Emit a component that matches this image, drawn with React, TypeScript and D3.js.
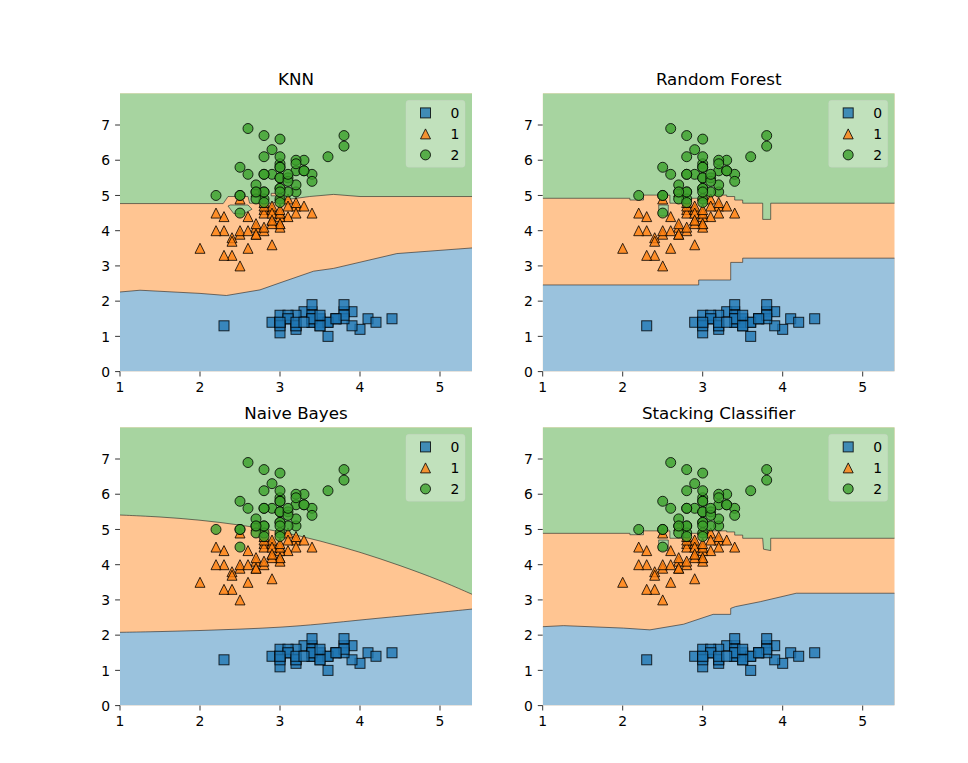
import React from "react";
import * as d3 from "d3";

type P = [number, number];

// Iris: [sepal width, petal length]
const setosa: P[] = [
  [3.5, 1.4], [3.0, 1.4], [3.2, 1.3], [3.1, 1.5], [3.6, 1.4], [3.9, 1.7], [3.4, 1.4], [3.4, 1.5], [2.9, 1.4], [3.1, 1.5],
  [3.7, 1.5], [3.4, 1.6], [3.0, 1.4], [3.0, 1.1], [4.0, 1.2], [4.4, 1.5], [3.9, 1.3], [3.5, 1.4], [3.8, 1.7], [3.8, 1.5],
  [3.4, 1.7], [3.7, 1.5], [3.6, 1.0], [3.3, 1.7], [3.4, 1.9], [3.0, 1.6], [3.4, 1.6], [3.5, 1.5], [3.4, 1.4], [3.2, 1.6],
  [3.1, 1.6], [3.4, 1.5], [4.1, 1.5], [4.2, 1.4], [3.1, 1.5], [3.2, 1.2], [3.5, 1.3], [3.6, 1.4], [3.0, 1.3], [3.4, 1.5],
  [3.5, 1.3], [2.3, 1.3], [3.2, 1.3], [3.5, 1.6], [3.8, 1.9], [3.0, 1.4], [3.8, 1.6], [3.2, 1.4], [3.7, 1.5], [3.3, 1.4],
];
const versicolor: P[] = [
  [3.2, 4.7], [3.2, 4.5], [3.1, 4.9], [2.3, 4.0], [2.8, 4.6], [2.8, 4.5], [3.3, 4.7], [2.4, 3.3], [2.9, 4.6], [2.7, 3.9],
  [2.0, 3.5], [3.0, 4.2], [2.2, 4.0], [2.9, 4.7], [2.9, 3.6], [3.1, 4.4], [3.0, 4.5], [2.7, 4.1], [2.2, 4.5], [2.5, 3.9],
  [3.2, 4.8], [2.8, 4.0], [2.5, 4.9], [2.8, 4.7], [2.9, 4.3], [3.0, 4.4], [2.8, 4.8], [3.0, 5.0], [2.9, 4.5], [2.6, 3.5],
  [2.4, 3.8], [2.4, 3.7], [2.7, 3.9], [2.7, 5.1], [3.0, 4.5], [3.4, 4.5], [3.1, 4.7], [2.3, 4.4], [3.0, 4.1], [2.5, 4.0],
  [2.6, 4.4], [3.0, 4.6], [2.6, 4.0], [2.3, 3.3], [2.7, 4.2], [3.0, 4.2], [2.9, 4.2], [2.9, 4.3], [2.5, 3.0], [2.8, 4.1],
];
const virginica: P[] = [
  [3.3, 6.0], [2.7, 5.1], [3.0, 5.9], [2.9, 5.6], [3.0, 5.8], [3.0, 6.6], [2.5, 4.5], [2.9, 6.3], [2.5, 5.8], [3.6, 6.1],
  [3.2, 5.1], [2.7, 5.3], [3.0, 5.5], [2.5, 5.0], [2.8, 5.1], [3.2, 5.3], [3.0, 5.5], [3.8, 6.7], [2.6, 6.9], [2.2, 5.0],
  [3.2, 5.7], [2.8, 4.9], [2.8, 6.7], [2.7, 4.9], [3.3, 5.7], [3.2, 6.0], [2.8, 4.8], [3.0, 4.9], [2.8, 5.6], [3.0, 5.8],
  [2.8, 6.1], [3.8, 6.4], [2.8, 5.6], [2.8, 5.1], [2.6, 5.6], [3.0, 6.1], [3.4, 5.6], [3.1, 5.5], [3.0, 4.8], [3.1, 5.4],
  [3.1, 5.6], [3.1, 5.1], [2.7, 5.1], [3.2, 5.9], [3.3, 5.7], [3.0, 5.2], [2.5, 5.0], [3.0, 5.2], [3.4, 5.4], [3.0, 5.1],
];

const classLabels = ["0", "1", "2"];
const titles = ["KNN", "Random Forest", "Naive Bayes", "Stacking Classifier"];
const xTicks = [1, 2, 3, 4, 5];
const yTicks = [0, 1, 2, 3, 4, 5, 6, 7];
const xDomain: P = [1, 5.4];
const yDomain: P = [0, 7.9];

// Decision boundaries (blue/orange = lower, orange/green = upper)
const knnLower: P[] = [[1.0, 2.26], [1.25, 2.31], [2.0, 2.22], [2.33, 2.16], [2.75, 2.32], [3.0, 2.52], [3.42, 2.85], [3.67, 2.93], [4.46, 3.35], [5.4, 3.51]];
const knnUpper: P[] = [[1.0, 4.77], [2.29, 4.77], [2.35, 4.97], [2.6, 4.97], [2.62, 4.78], [2.9, 4.78], [3.04, 4.87], [3.37, 4.97], [3.67, 5.03], [4.0, 4.97], [5.4, 4.97]];
const knnGreenIslands: P[][] = [[[2.35, 4.70], [2.42, 4.49], [2.54, 4.47], [2.65, 4.61], [2.60, 4.73], [2.38, 4.73]]];
const knnOrangeIslands: P[][] = [[[2.89, 4.99], [2.98, 4.99], [2.98, 5.06], [2.89, 5.06]]];

const rfLower: P[] = [[1, 2.46], [2.95, 2.46], [2.95, 2.60], [3.35, 2.60], [3.35, 3.10], [3.5, 3.10], [3.5, 3.22], [5.4, 3.22]];
const rfUpper: P[] = [[1, 4.92], [2.09, 4.92], [2.09, 4.87], [2.26, 4.87], [2.26, 5.01], [2.59, 5.01], [2.59, 4.78], [2.76, 4.78], [2.76, 4.87], [2.86, 4.87], [2.86, 4.92], [3.05, 4.92], [3.05, 5.01], [3.3, 5.01], [3.3, 4.97], [3.4, 4.97], [3.4, 4.87], [3.5, 4.87], [3.5, 4.78], [3.75, 4.78], [3.75, 4.32], [3.85, 4.32], [3.85, 4.78], [5.4, 4.78]];
const rfGreenIslands: P[][] = [[[2.45, 4.42], [2.57, 4.42], [2.57, 4.73], [2.45, 4.73]]];

const nbLower: P[] = [[1, 2.08], [1.5, 2.1], [2, 2.13], [2.5, 2.17], [3, 2.22], [3.5, 2.31], [4.08, 2.45], [4.7, 2.58], [5.4, 2.74]];
const nbUpper: P[] = [[1, 5.41], [1.5, 5.36], [2, 5.27], [2.5, 5.13], [3, 4.95], [3.5, 4.68], [4, 4.36], [4.5, 3.98], [5.0, 3.56], [5.4, 3.16]];

const stLower: P[] = [[1, 2.24], [1.26, 2.27], [2.01, 2.2], [2.34, 2.15], [2.76, 2.31], [3.13, 2.59], [3.35, 2.59], [3.35, 2.76], [3.41, 2.81], [3.72, 2.95], [4.17, 3.19], [5.4, 3.19]];
const stUpper: P[] = [[1, 4.89], [2.09, 4.89], [2.09, 4.85], [2.26, 4.85], [2.26, 4.96], [2.59, 4.96], [2.59, 4.75], [2.76, 4.75], [2.76, 4.84], [2.86, 4.84], [2.86, 4.89], [3.05, 4.89], [3.05, 4.96], [3.3, 4.96], [3.3, 4.93], [3.4, 4.93], [3.4, 4.84], [3.5, 4.84], [3.5, 4.75], [3.75, 4.75], [3.76, 4.44], [3.85, 4.40], [3.85, 4.75], [5.4, 4.75]];
const stGreenIslands: P[][] = [[[2.45, 4.40], [2.57, 4.40], [2.57, 4.70], [2.45, 4.70]]];

const markerColors = ["#1f77b4", "#ff7f0e", "#3ca02c"];
const regionColors = ["#9ac2dd", "#ffc592", "#a7d4a0"];

const AX_W = 352;
const AX_H = 278.3;
const FONT = "DejaVu Sans, sans-serif";
const MS = 10;

function Marker({ cls, cx, cy }: { cls: number; cx: number; cy: number }) {
  const common = { fill: markerColors[cls], fillOpacity: 0.8, stroke: "#000", strokeOpacity: 0.8, strokeWidth: 1 };
  const h = MS / 2;
  if (cls === 0) return <rect x={cx - h} y={cy - h} width={MS} height={MS} {...common} />;
  if (cls === 1) return <path d={`M${cx},${cy - h}L${cx + h},${cy + h}L${cx - h},${cy + h}Z`} {...common} />;
  return <circle cx={cx} cy={cy} r={h} {...common} />;
}

type PanelProps = {
  id: number; left: number; top: number; title: string;
  lower: P[]; upper: P[]; greenIslands?: P[][]; orangeIslands?: P[][]; smooth?: boolean;
};

function Panel({ id, left, top, title, lower, upper, greenIslands = [], orangeIslands = [], smooth }: PanelProps) {
  const x = d3.scaleLinear().domain(xDomain).range([left, left + AX_W]);
  const y = d3.scaleLinear().domain(yDomain).range([top + AX_H, top]);
  const curve = smooth ? d3.curveBasis : d3.curveLinear;
  const blueArea = d3.area<P>().x(d => x(d[0])).y0(y(yDomain[0])).y1(d => y(d[1])).curve(curve);
  const greenArea = d3.area<P>().x(d => x(d[0])).y0(y(yDomain[1])).y1(d => y(d[1])).curve(curve);
  const line = d3.line<P>().x(d => x(d[0])).y(d => y(d[1])).curve(curve);
  const poly = (pts: P[]) => "M" + pts.map(p => `${x(p[0])},${y(p[1])}`).join("L") + "Z";
  const clipId = `clip${id}`;
  const lineStyle = { fill: "none", stroke: "#222", strokeWidth: 0.8, strokeOpacity: 0.75 };
  const legW = 59, legH = 67;
  const legX = left + AX_W - 7 - legW;
  const legY = top + 7;
  return (
    <g>
      <defs>
        <clipPath id={clipId}><rect x={left} y={top} width={AX_W} height={AX_H} /></clipPath>
      </defs>
      <g clipPath={`url(#${clipId})`}>
        <rect x={left} y={top} width={AX_W} height={AX_H} fill={regionColors[1]} />
        <path d={blueArea(lower) || ""} fill={regionColors[0]} />
        <path d={greenArea(upper) || ""} fill={regionColors[2]} />
        {greenIslands.map((g, i) => <path key={"g" + i} d={poly(g)} fill={regionColors[2]} />)}
        {orangeIslands.map((g, i) => <path key={"o" + i} d={poly(g)} fill={regionColors[1]} />)}
        <path d={line(lower) || ""} {...lineStyle} />
        <path d={line(upper) || ""} {...lineStyle} />
        {greenIslands.map((g, i) => <path key={"gl" + i} d={poly(g)} {...lineStyle} />)}
        {orangeIslands.map((g, i) => <path key={"ol" + i} d={poly(g)} {...lineStyle} />)}
      </g>
      {[setosa, versicolor, virginica].map((pts, c) =>
        pts.map((p, i) => <Marker key={`${c}-${i}`} cls={c} cx={x(p[0])} cy={y(p[1])} />)
      )}
      {xTicks.map(t => (
        <g key={"x" + t}>
          <line x1={x(t)} x2={x(t)} y1={top + AX_H} y2={top + AX_H + 4.9} stroke="#000" strokeWidth={0.8} />
          <text x={x(t)} y={top + AX_H + 20.5} textAnchor="middle" fontSize={13.9} fontFamily={FONT}>{t}</text>
        </g>
      ))}
      {yTicks.map(t => (
        <g key={"y" + t}>
          <line x1={left - 4.9} x2={left} y1={y(t)} y2={y(t)} stroke="#000" strokeWidth={0.8} />
          <text x={left - 9.8} y={y(t) + 5.2} textAnchor="end" fontSize={13.9} fontFamily={FONT}>{t}</text>
        </g>
      ))}
      <text x={left + AX_W / 2} y={top - 8.3} textAnchor="middle" fontSize={16.7} fontFamily={FONT}>{title}</text>
      <rect x={legX} y={legY} width={legW} height={legH} rx={3} fill="#fff" fillOpacity={0.3} stroke="#ccc" strokeOpacity={0.3} />
      {classLabels.map((lab, i) => (
        <g key={"l" + i}>
          <Marker cls={i} cx={legX + 19.5} cy={legY + 12.6 + i * 21} />
          <text x={legX + 44.5} y={legY + 12.6 + i * 21 + 5} fontSize={13.9} fontFamily={FONT}>{lab}</text>
        </g>
      ))}
    </g>
  );
}

export default function App() {
  const boxes = [
    { left: 120, top: 93.3 },
    { left: 542.7, top: 93.3 },
    { left: 120, top: 427.3 },
    { left: 542.7, top: 427.3 },
  ];
  const panels = [
    { lower: knnLower, upper: knnUpper, greenIslands: knnGreenIslands, orangeIslands: knnOrangeIslands },
    { lower: rfLower, upper: rfUpper, greenIslands: rfGreenIslands },
    { lower: nbLower, upper: nbUpper, smooth: true },
    { lower: stLower, upper: stUpper, greenIslands: stGreenIslands },
  ];
  return (
    <svg width={968} height={763} style={{ position: "absolute", left: 0, top: 0, background: "#fff" }}>
      <rect width={968} height={763} fill="#fff" />
      {panels.map((p, i) => (
        <Panel key={i} id={i} left={boxes[i].left} top={boxes[i].top} title={titles[i]} {...p} />
      ))}
    </svg>
  );
}
